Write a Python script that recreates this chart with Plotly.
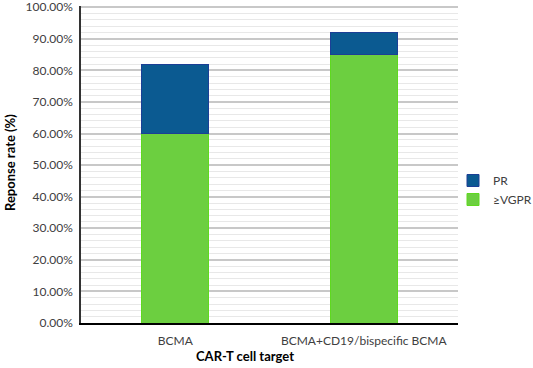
import plotly.graph_objects as go

categories = ["BCMA", "BCMA+CD19/bispecific BCMA"]
vgpr = [0.60, 0.85]
pr = [0.22, 0.07]
y_ticks = [i / 10 for i in range(11)]

fig = go.Figure()
fig.add_trace(go.Bar(
    x=categories, y=vgpr, name="≥VGPR",
    marker=dict(color="#6ccf40", line=dict(color="#5fd91f", width=1)),
))
fig.add_trace(go.Bar(
    x=categories, y=pr, name="PR",
    marker=dict(color="#0b5a91", line=dict(color="#1c3f96", width=1)),
))

font = "Lato, 'Open Sans', sans-serif"
L, R, T, B = 81, 75, 6, 45
W, H = 533, 368
pw, ph = W - L - R, H - T - B

fig.update_layout(
    barmode="stack",
    bargap=0.645,
    width=W, height=H,
    margin=dict(l=L, r=R, t=T, b=B, autoexpand=False),
    paper_bgcolor="white", plot_bgcolor="white",
    font=dict(family=font, size=12, color="#404040"),
    showlegend=True,
    legend=dict(x=(453 - L) / pw, xanchor="left", y=(323 - 166) / ph, yanchor="top",
                traceorder="reversed", font=dict(size=12, color="#404040"),
                itemwidth=30, tracegroupgap=0, bgcolor="rgba(0,0,0,0)"),
    xaxis=dict(showline=True, linecolor="black", linewidth=1.5, automargin=False,
               ticks="", tickfont=dict(size=12, color="#404040"), ticklabelstandoff=6,
               showgrid=False),
    yaxis=dict(range=[0, 1.004], tickvals=y_ticks, tickformat=".2%", automargin=False,
               showline=True, linecolor="#333333", linewidth=1.5,
               gridcolor="#c8c8c8", gridwidth=1.5, zeroline=False,
               ticks="", tickfont=dict(size=12, color="#404040"),
               ticklabeloverflow="allow", ticklabelstandoff=4,
               minor=dict(dtick=0.02, showgrid=True, gridcolor="#e8e8e8", gridwidth=1)),
    annotations=[
        dict(text="<b>CAR-T cell target</b>", xref="paper", yref="paper",
             x=(245 - L) / pw, y=(323 - 356) / ph, xanchor="center", yanchor="middle",
             showarrow=False, font=dict(size=13, color="black")),
        dict(text="<b>Reponse rate (%)</b>", xref="paper", yref="paper", textangle=-90,
             x=(10 - L) / pw, y=(323 - 163) / ph, xanchor="center", yanchor="middle",
             showarrow=False, font=dict(size=13, color="black")),
    ],
)
fig.write_html("out.html", config={"displayModeBar": False},
               post_script="document.body.style.margin='0';document.body.style.padding='0';")
